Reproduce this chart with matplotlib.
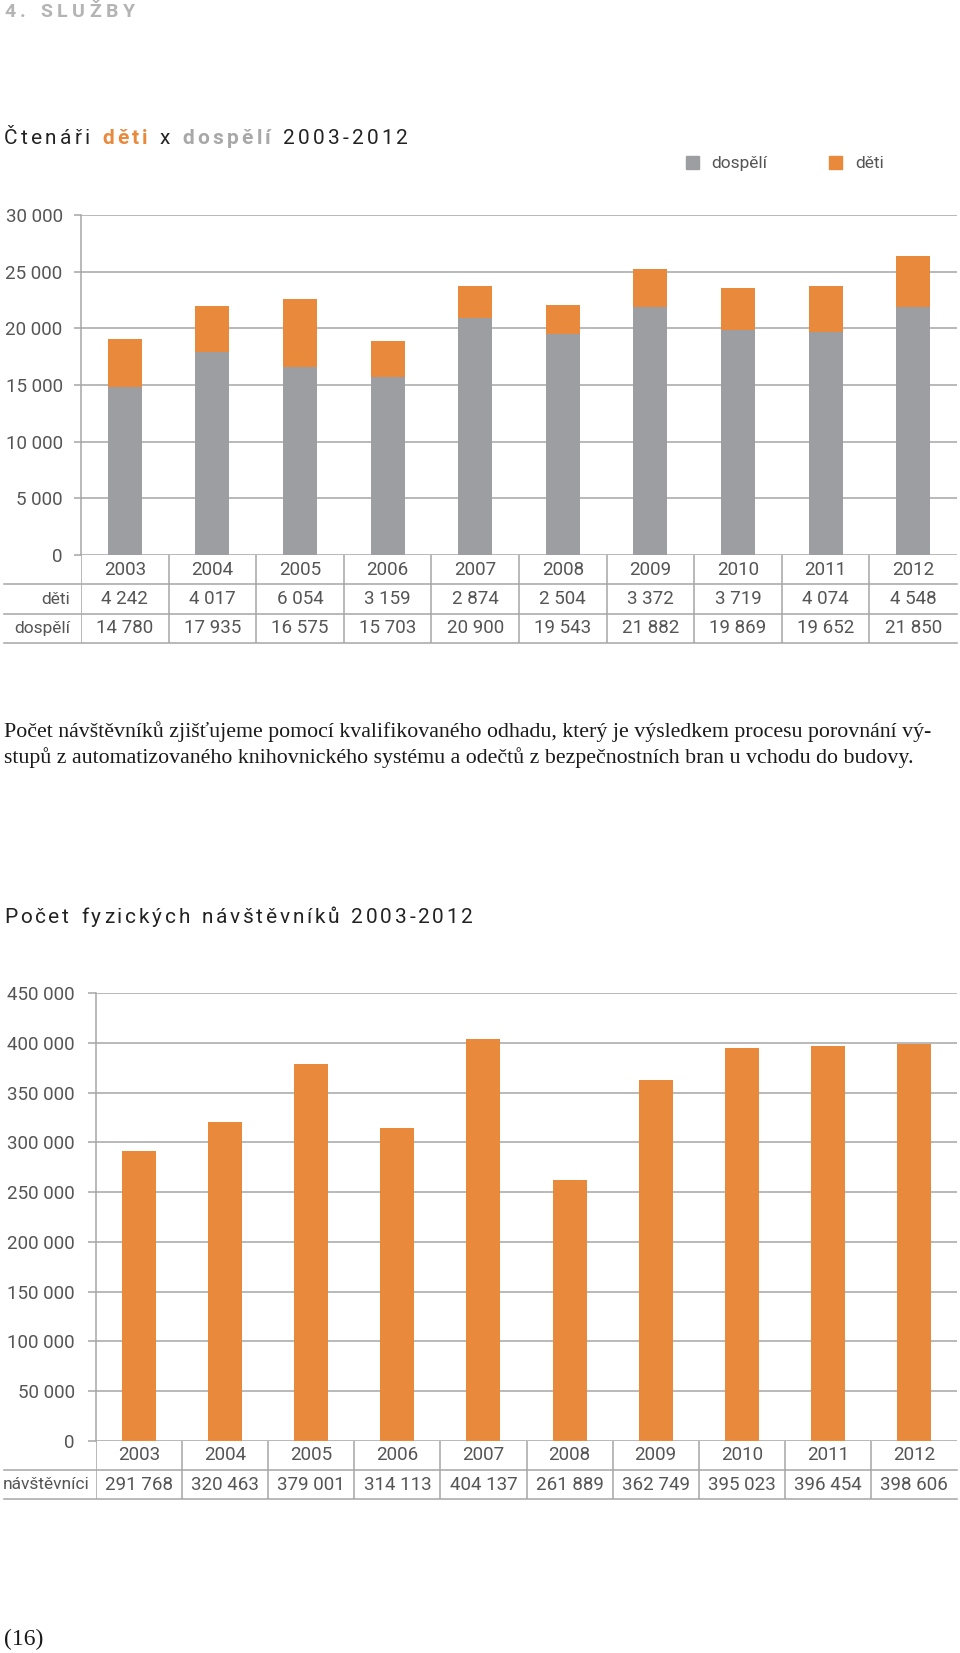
import matplotlib
matplotlib.use("Agg")
import matplotlib.pyplot as plt
import matplotlib.transforms as mtransforms
from matplotlib.patches import Rectangle

plt.rcParams['font.family'] = ['Roboto', 'DejaVu Sans']

# data
years = ["2003", "2004", "2005", "2006", "2007", "2008", "2009", "2010", "2011", "2012"]
deti = [4242, 4017, 6054, 3159, 2874, 2504, 3372, 3719, 4074, 4548]
dospeli = [14780, 17935, 16575, 15703, 20900, 19543, 21882, 19869, 19652, 21850]
navstevnici = [291768, 320463, 379001, 314113, 404137, 261889, 362749, 395023, 396454, 398606]
ticks_top = [0, 5000, 10000, 15000, 20000, 25000, 30000]
ticks_bottom = [0, 50000, 100000, 150000, 200000, 250000, 300000, 350000, 400000, 450000]

W, H = 960, 1653
GRAY = '#9d9ea2'
ORANGE = '#e8893b'
LINE = '#a6a6a6'
TXT = '#555555'
DARK = '#222222'
NUMW = 'normal'
NUMS = 13.5

fig = plt.figure(figsize=(W / 100, H / 100), dpi=100)


def px_axes(l, t, r, b):
    return fig.add_axes([l / W, 1 - b / H, (r - l) / W, (b - t) / H])


def fmt(v):
    return f"{v:,}".replace(",", " ")


def spaced(x0, y_base, parts, size, target_w, family='Roboto'):
    # letter-spaced heading, tracking fitted to target width
    r = fig.canvas.get_renderer()
    items = []
    for s, c, wt in parts:
        for ch in s:
            items.append((ch, c, wt))
    widths = []
    for ch, c, wt in items:
        if ch == ' ':
            widths.append(None)
        else:
            t = fig.text(0, 0, ch, fontsize=size, family=family, weight=wt)
            widths.append(t.get_window_extent(r).width)
            t.remove()
    space = size * 100 / 72 * 0.3
    natural = sum(w if w is not None else space for w in widths)
    track = (target_w - natural) / (len(items) - 1)
    x = x0
    for (ch, c, wt), w in zip(items, widths):
        if w is None:
            x += space + track
            continue
        fig.text(x / W, 1 - y_base / H, ch, color=c, fontsize=size, family=family,
                 weight=wt, va='baseline', ha='left')
        x += w + track


def chart(ax, yticks, tick_len, tick_pad):
    n = len(years)
    ax.set_xlim(-0.5, n - 0.5)
    ax.set_ylim(yticks[0], yticks[-1])
    ax.set_yticks(yticks)
    ax.set_yticklabels([fmt(v) for v in yticks])
    ax.set_xticks([])
    for s in ['top', 'right', 'bottom']:
        ax.spines[s].set_visible(False)
    ax.spines['left'].set_color(LINE)
    ax.spines['left'].set_linewidth(1.1)
    ax.tick_params(axis='y', length=tick_len, width=1.1, color=LINE, pad=tick_pad,
                   labelsize=NUMS, labelcolor=TXT)
    ax.grid(axis='y', color=LINE, lw=1.1)
    ax.set_axisbelow(True)
    for lab in ax.get_yticklabels():
        lab.set_fontweight(NUMW)


def table(ax_t, rows, label_right):
    n = len(years)
    nrows = len(rows) + 1
    ax_t.set_xlim(-0.5, n - 0.5)
    ax_t.set_ylim(nrows, 0)
    ax_t.axis('off')
    blend = mtransforms.blended_transform_factory(fig.transFigure, ax_t.transData)
    for i in range(n):
        ax_t.axvline(i - 0.5, color=LINE, lw=1.1)
        ax_t.text(i, 0.5, years[i], ha='center', va='center', fontsize=NUMS,
                  color=TXT, weight=NUMW)
    for k in range(1, nrows + 1):
        ax_t.plot([4 / W, 957 / W], [k, k], color=LINE, lw=1.1, transform=blend,
                  clip_on=False)
    for j, (label, vals) in enumerate(rows):
        ax_t.text(label_right / W, j + 1.5, label, transform=blend, ha='right',
                  va='center', fontsize=12.5, color=TXT, weight=NUMW)
        for i, v in enumerate(vals):
            ax_t.text(i, j + 1.5, fmt(v), ha='center', va='center', fontsize=NUMS,
                      color=TXT, weight=NUMW)


# page heading
spaced(4, 17, [("4. SLUŽBY", '#b4b4b4', 'bold')], 14, 131)

# chart 1
spaced(4, 144, [("Čtenáři ", DARK, 'normal'), ("děti", ORANGE, 'bold'),
                (" x ", DARK, 'normal'), ("dospělí", '#a8a8a8', 'bold'),
                (" 2003-2012", DARK, 'normal')], 15, 404)

fig.patches.append(Rectangle((686 / W, 1 - 169 / H), 13 / W, 13 / H, color=GRAY,
                             transform=fig.transFigure))
fig.text(711 / W, 1 - 168 / H, "dospělí", fontsize=12.5, color=TXT, weight=NUMW,
         va='baseline')
fig.patches.append(Rectangle((829 / W, 1 - 169 / H), 13 / W, 13 / H, color=ORANGE,
                             transform=fig.transFigure))
fig.text(855 / W, 1 - 168 / H, "děti", fontsize=12.5, color=TXT, weight=NUMW,
         va='baseline')

ax1 = px_axes(81, 215, 957, 555)
chart(ax1, ticks_top, 5.2, 8)
x = range(len(years))
ax1.bar(x, dospeli, width=0.39, color=GRAY)
ax1.bar(x, deti, width=0.39, bottom=dospeli, color=ORANGE)

ax1t = px_axes(81, 555, 957, 643)
table(ax1t, [("děti", deti), ("dospělí", dospeli)], 70)

# paragraph, font size fitted to the first line's width
para = ["Počet návštěvníků zjišťujeme pomocí kvalifikovaného odhadu, který je výsledkem procesu porovnání vý-",
        "stupů z automatizovaného knihovnického systému a odečtů z bezpečnostních bran u vchodu do budovy."]
serif = ['Liberation Serif', 'DejaVu Serif']
probe = fig.text(0, 0, para[0], family=serif, fontsize=14)
pw = probe.get_window_extent(fig.canvas.get_renderer()).width
probe.remove()
psize = 14 * 932 / pw
for k, line in enumerate(para):
    fig.text(4 / W, 1 - (737 + 26 * k) / H, line, family=serif,
             fontsize=psize, color='#1a1a1a', va='baseline')

# chart 2
spaced(4, 923, [("Počet fyzických návštěvníků 2003-2012", DARK, 'normal')], 15, 469)

ax2 = px_axes(96, 993, 957, 1441)
chart(ax2, ticks_bottom, 5.8, 9.4)
ax2.bar(x, navstevnici, width=0.395, color=ORANGE)

ax2t = px_axes(96, 1441, 957, 1499)
table(ax2t, [("návštěvníci", navstevnici)], 89)

fig.text(4 / W, 1 - 1645 / H, "(16)", family=serif,
         fontsize=17, color='#1a1a1a', va='baseline')

fig.savefig("out.png", dpi=100)
